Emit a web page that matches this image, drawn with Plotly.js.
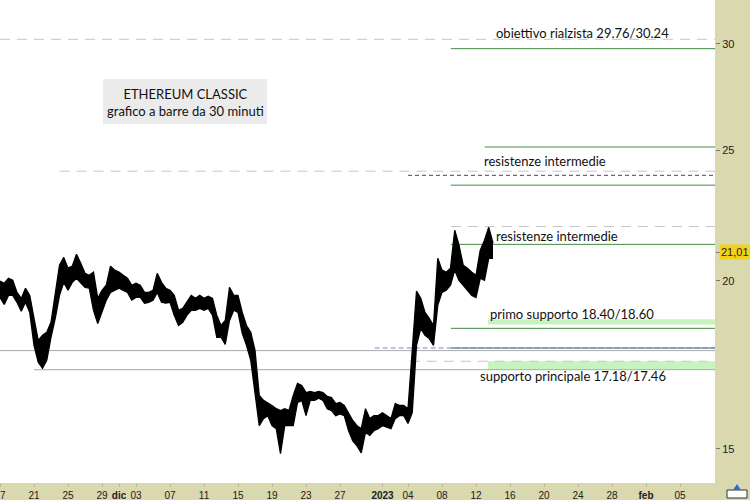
<!DOCTYPE html>
<html><head><meta charset="utf-8">
<script src="https://cdn.plot.ly/plotly-3.0.1.min.js"></script>
<style>html,body{margin:0;padding:0;background:#d9d8ae;}#chart{width:750px;height:500px;}</style>
</head><body><div id="chart"></div>
<script>
// 12-hour sampling of the 30-minute bars (high / low envelope)
const barTimes = [
'2022-11-17 00','2022-11-17 12','2022-11-18 00','2022-11-18 12','2022-11-19 00','2022-11-19 12','2022-11-20 00','2022-11-20 12','2022-11-21 00','2022-11-21 12',
'2022-11-22 00','2022-11-22 12','2022-11-23 00','2022-11-23 12','2022-11-24 00','2022-11-24 12','2022-11-25 00','2022-11-25 12','2022-11-26 00','2022-11-26 12',
'2022-11-27 00','2022-11-27 12','2022-11-28 00','2022-11-28 12','2022-11-29 00','2022-11-29 12','2022-11-30 00','2022-11-30 12','2022-12-01 00','2022-12-01 12',
'2022-12-02 00','2022-12-02 12','2022-12-03 00','2022-12-03 12','2022-12-04 00','2022-12-04 12','2022-12-05 00','2022-12-05 12','2022-12-06 00','2022-12-06 12',
'2022-12-07 00','2022-12-07 12','2022-12-08 00','2022-12-08 12','2022-12-09 00','2022-12-09 12','2022-12-10 00','2022-12-10 12','2022-12-11 00','2022-12-11 12',
'2022-12-12 00','2022-12-12 12','2022-12-13 00','2022-12-13 12','2022-12-14 00','2022-12-14 12','2022-12-15 00','2022-12-15 12','2022-12-16 00','2022-12-16 12',
'2022-12-17 00','2022-12-17 12','2022-12-18 00','2022-12-18 12','2022-12-19 00','2022-12-19 12','2022-12-20 00','2022-12-20 12','2022-12-21 00','2022-12-21 12',
'2022-12-22 00','2022-12-22 12','2022-12-23 00','2022-12-23 12','2022-12-24 00','2022-12-24 12','2022-12-25 00','2022-12-25 12','2022-12-26 00','2022-12-26 12',
'2022-12-27 00','2022-12-27 12','2022-12-28 00','2022-12-28 12','2022-12-29 00','2022-12-29 12','2022-12-30 00','2022-12-30 12','2022-12-31 00','2022-12-31 12',
'2023-01-01 00','2023-01-01 12','2023-01-02 00','2023-01-02 12','2023-01-03 00','2023-01-03 12','2023-01-04 00','2023-01-04 12','2023-01-05 00','2023-01-05 12',
'2023-01-06 00','2023-01-06 12','2023-01-07 00','2023-01-07 12','2023-01-08 00','2023-01-08 12','2023-01-09 00','2023-01-09 12','2023-01-10 00','2023-01-10 12',
'2023-01-11 00','2023-01-11 12','2023-01-12 00','2023-01-12 12','2023-01-13 00','2023-01-13 12','2023-01-14 00'];
const barHigh = [
19.99,19.92,20.09,20.02,19.61,19.41,19.75,19.51,18.76,18.06,
18.22,18.32,18.63,19.61,20.54,20.82,20.44,20.51,20.93,20.61,
20.26,20.19,20.30,19.41,19.68,19.85,20.51,20.37,20.30,20.19,
20.09,19.85,19.92,19.85,19.61,19.61,19.68,20.26,19.95,19.75,
19.68,19.51,19.02,19.08,19.28,19.51,19.41,19.51,19.41,19.48,
19.41,18.86,18.53,18.69,19.78,19.51,19.51,18.95,18.53,18.32,
17.76,16.44,16.30,16.24,16.16,16.07,16.02,16.07,16.02,16.44,
16.78,16.72,16.52,16.55,16.52,16.55,16.52,16.41,16.38,16.21,
16.24,16.16,15.96,15.75,15.61,15.53,16.07,15.80,15.88,15.88,
15.96,15.88,15.80,16.21,16.16,16.16,16.07,17.76,19.65,19.41,
18.95,18.76,18.53,20.79,20.37,20.30,20.44,21.81,21.26,20.54,
20.44,20.30,20.19,21.08,21.44,21.92,21.33];
const barLow = [
19.44,19.21,19.51,19.51,19.28,18.99,19.28,18.95,17.91,17.40,
17.22,17.46,18.16,18.76,19.51,19.95,19.68,19.95,20.09,19.92,
19.78,19.75,19.02,18.59,18.95,19.35,19.61,19.68,19.75,19.68,
19.61,19.35,19.44,19.44,19.25,19.28,19.35,19.61,19.28,19.25,
19.28,18.86,18.53,18.63,18.86,19.02,19.02,19.08,19.02,19.08,
18.86,18.16,18.16,17.94,18.69,19.02,18.95,18.28,17.91,17.46,
16.44,15.61,15.80,15.88,15.61,15.53,14.88,15.61,15.61,15.61,
16.24,16.30,15.88,16.30,16.30,16.36,16.30,16.07,16.02,15.88,
15.93,15.88,15.48,15.21,15.08,14.90,15.43,15.35,15.48,15.53,
15.61,15.56,15.53,15.80,15.88,15.88,15.67,15.96,17.91,18.44,
18.22,18.12,17.91,19.18,19.61,19.68,19.85,20.37,20.02,19.85,
19.68,19.51,19.44,20.09,20.02,20.79,20.79];
const lastPrice = 21.01;
const lastLabel = '21,01';

// horizontal levels
const levelPrice = [30.24, 29.76, 25.15, 24.13, 23.96, 23.56, 21.95, 21.29, 18.44, 17.83, 17.83, 17.75, 17.43, 17.18];
const levelFrom  = ['2022-11-17 00','2023-01-09 01','2023-01-13 01','2022-11-24 00','2023-01-04 00','2023-01-09 01','2023-01-09 01','2023-01-09 01','2023-01-09 01','2023-01-09 01','2022-12-31 02','2022-11-17 00','2023-01-04 05','2022-11-21 00'];
const levelTo    = ['2023-02-12','2023-02-12','2023-02-12','2023-02-12','2023-02-12','2023-02-12','2023-02-12','2023-02-12','2023-02-12','2023-02-12','2023-02-12','2023-02-12','2023-02-08 07','2023-02-12'];
const levelKind  = ['grayDash','green','green','grayDash','purpleDash','green','grayDash','green','green','darkGreen','blueDash','gray','grayDash','gray'];

// support zones
const zoneLow  = [18.56, 17.18];
const zoneHigh = [18.73, 17.43];
const zoneFrom = ['2023-01-13 10','2023-01-13 10'];
const zoneTo   = ['2023-02-12','2023-02-12'];

const noteText = ['obiettivo rialzista 29.76/30.24','resistenze intermedie','resistenze intermedie','primo supporto 18.40/18.60','supporto principale 17.18/17.46'];
const titleText = 'ETHEREUM CLASSIC<br>grafico a barre da 30 minuti';

const tickDates = ['2022-11-17','2022-11-21','2022-11-25','2022-11-29','2022-12-01','2022-12-03','2022-12-07','2022-12-11','2022-12-15','2022-12-19','2022-12-23','2022-12-27','2023-01-01','2023-01-04','2023-01-08','2023-01-12','2023-01-16','2023-01-20','2023-01-24','2023-01-28','2023-02-01','2023-02-05'];
const tickText = ['17','21','25','29','<b>dic</b>','03','07','11','15','19','23','27','<b>2023</b>','04','08','12','16','20','24','28','<b>feb</b>','05'];
const yTicks = [15, 20, 25, 30];

// ---------- styles & positions ----------
const styles = {
  grayDash:   {color:'#c6c6c6', width:1, dash:'10px,7px'},
  green:      {color:'#418a41', width:1},
  darkGreen:  {color:'#2c6a4c', width:1.2},
  purpleDash: {color:'#5a3384', width:1, dash:'4px,3px'},
  blueDash:   {color:'#6f86d8', width:1, dash:'5px,3px'},
  gray:       {color:'#a8a8a8', width:1}
};
const W = 715, H = 483;
const px = x => x / W, py = y => 1 - y / H;
const notePos = [[494,33],[482,161],[494,235.5],[488,314],[478,376]];

const traces = [];
zoneLow.forEach((lo, i) => {
  traces.push({x:[zoneFrom[i], zoneTo[i], zoneTo[i], zoneFrom[i], zoneFrom[i]], y:[lo, lo, zoneHigh[i], zoneHigh[i], lo],
    mode:'lines', fill:'toself', fillcolor:'#c8f3bf', line:{width:0}, hoverinfo:'skip'});
});
levelPrice.forEach((v, i) => {
  traces.push({x:[levelFrom[i], levelTo[i]], y:[v, v], mode:'lines', line:styles[levelKind[i]], hoverinfo:'skip'});
});
traces.push({x:barTimes, y:barLow, mode:'lines', line:{color:'#000', width:1.3}, hoverinfo:'skip'});
traces.push({x:barTimes, y:barHigh, mode:'lines', fill:'tonexty', fillcolor:'#000', line:{color:'#000', width:1.3}, hoverinfo:'skip'});

const annotations = noteText.map((t, i) => ({
  text:t, xref:'paper', yref:'paper', x:px(notePos[i][0]), y:py(notePos[i][1]), xanchor:'left', yanchor:'middle',
  showarrow:false, font:{family:'Lato, Carlito, sans-serif', size:13, color:'#111'}
}));
annotations.push({text:titleText, xref:'paper', yref:'paper', x:px(185), y:py(102.5), xanchor:'center', yanchor:'middle',
  showarrow:false, align:'center', font:{family:'Lato, Carlito, sans-serif', size:13, color:'#111'}});
annotations.push({text:lastLabel, xref:'paper', yref:'y', x:1, xshift:4, y:Math.log10(lastPrice), xanchor:'left', yanchor:'middle',
  showarrow:false, bgcolor:'#f2d21c', borderpad:1, font:{family:'Liberation Sans, Arial, sans-serif', size:11, color:'#222'}});

const shapes = [
  {type:'rect', xref:'paper', yref:'paper', x0:px(103), x1:px(267), y0:py(124), y1:py(79), fillcolor:'#ebebeb', line:{width:0}, layer:'below'},
  {type:'rect', xref:'paper', yref:'paper', x0:px(727), x1:px(747), y0:py(498), y1:py(490), fillcolor:'#ffffff', line:{color:'#333', width:1}},
  {type:'path', xref:'paper', yref:'paper', path:`M ${px(733)} ${py(490)} L ${px(741)} ${py(490)} L ${px(737)} ${py(484)} Z`, fillcolor:'#2a6fd0', line:{width:0}}
];

const layout = {
  width:750, height:500,
  margin:{l:0, r:35, t:0, b:17, pad:0},
  paper_bgcolor:'#d9d8ae', plot_bgcolor:'#ffffff',
  showlegend:false, hovermode:false,
  xaxis:{type:'date', range:['2022-11-17 00:00','2023-02-09 02:50'], tickvals:tickDates, ticktext:tickText,
    ticks:'outside', ticklen:3, tickcolor:'#b8b78f', showgrid:false, zeroline:false, showline:false,
    ticklabeloverflow:'allow', tickfont:{family:'Liberation Sans, Arial, sans-serif', size:10, color:'#222'}, fixedrange:true},
  yaxis:{type:'log', side:'right', range:[1.1508, 1.5098], tickvals:yTicks.concat([lastPrice]), ticktext:yTicks.map(String).concat(['']),
    ticks:'outside', ticklen:4, tickcolor:'#777', showgrid:false, zeroline:false, showline:false,
    tickfont:{family:'Liberation Sans, Arial, sans-serif', size:11, color:'#222'}, fixedrange:true},
  annotations:annotations, shapes:shapes
};
Plotly.newPlot('chart', traces, layout, {displayModeBar:false, staticPlot:true});
</script></body></html>
